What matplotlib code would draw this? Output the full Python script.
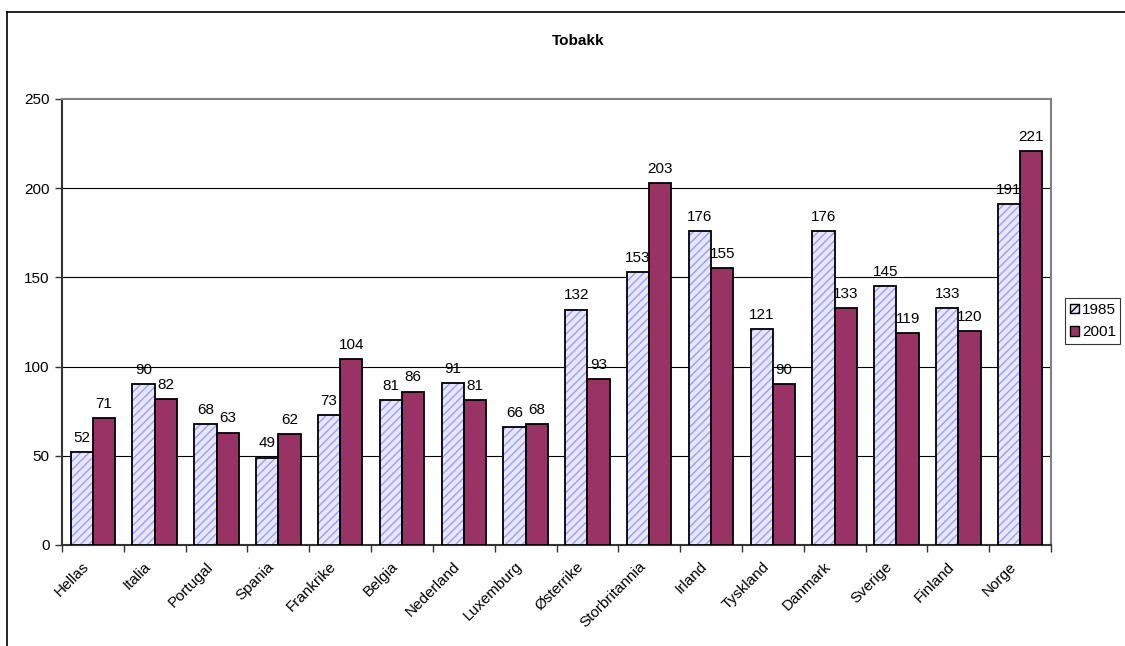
import matplotlib
matplotlib.use("Agg")
import matplotlib.pyplot as plt
from matplotlib.lines import Line2D
from matplotlib.patches import Patch
from matplotlib.transforms import ScaledTranslation
import numpy as np

plt.rcParams['font.family'] = ['Liberation Sans', 'DejaVu Sans']
plt.rcParams['hatch.linewidth'] = 1.0

countries = ["Hellas", "Italia", "Portugal", "Spania", "Frankrike", "Belgia",
             "Nederland", "Luxemburg", "Østerrike", "Storbritannia", "Irland",
             "Tyskland", "Danmark", "Sverige", "Finland", "Norge"]
values_1985 = [52, 90, 68, 49, 73, 81, 91, 66, 132, 153, 176, 121, 176, 145, 133, 191]
values_2001 = [71, 82, 63, 62, 104, 86, 81, 68, 93, 203, 155, 90, 133, 119, 120, 221]
series_labels = ["1985", "2001"]
y_ticks = [0, 50, 100, 150, 200, 250]

W, H = 1125, 646
FS = 11
fig = plt.figure(figsize=(W / 100, H / 100), dpi=100)
ax = fig.add_axes([62 / W, 1 - 545 / H, (1051 - 62) / W, (545 - 99) / H])

x = np.arange(len(countries))
bw = 0.36
col_a_face = "#e6e6ff"
col_a_hatch = "#9a9aff"
col_b = "#993366"

# 1985: hatched pale blue bars, black outline drawn on top
ax.bar(x - bw / 2, values_1985, bw, facecolor=col_a_face, edgecolor=col_a_hatch,
       hatch="////", linewidth=0, zorder=3)
ax.bar(x - bw / 2, values_1985, bw, facecolor="none", edgecolor="black",
       linewidth=1.3, zorder=4)
# 2001: solid plum bars
ax.bar(x + bw / 2, values_2001, bw, facecolor=col_b, edgecolor="black",
       linewidth=1.3, zorder=3)

for xi, v in zip(x, values_1985):
    ax.text(xi - bw / 2, v + 4, str(v), ha="center", va="bottom", fontsize=FS)
for xi, v in zip(x, values_2001):
    ax.text(xi + bw / 2, v + 4, str(v), ha="center", va="bottom", fontsize=FS)

ax.set_xlim(-0.5, len(countries) - 0.5)
ax.set_ylim(0, 250)
ax.set_yticks(y_ticks)
ax.set_yticklabels([str(t) for t in y_ticks], fontsize=FS)
for t in y_ticks[1:-1]:
    ax.axhline(t, color="black", linewidth=0.8, zorder=1)

ax.set_xticks(x)
ax.set_xticklabels(countries, rotation=45, ha="right", rotation_mode="anchor",
                   va="center", fontsize=FS)
ax.tick_params(axis="x", which="major", length=0, pad=14)
shift = ScaledTranslation(-6 / 100, 0, fig.dpi_scale_trans)
for lbl in ax.get_xticklabels():
    lbl.set_transform(lbl.get_transform() + shift)
ax.set_xticks(np.arange(len(countries) + 1) - 0.5, minor=True)
ax.tick_params(axis="x", which="minor", length=5, width=1, color="#333333")
ax.tick_params(axis="y", length=5, width=1, color="#333333", pad=4)

for side in ("top", "right"):
    ax.spines[side].set_color("#808080")
    ax.spines[side].set_linewidth(1.5)
for side in ("left", "bottom"):
    ax.spines[side].set_color("#333333")
    ax.spines[side].set_linewidth(1.5)

fig.text(578 / W, 1 - 41 / H, "Tobakk", ha="center", va="center",
         fontsize=FS, fontweight="bold")

handles = [Patch(facecolor=col_a_face, edgecolor="black", hatch="////", linewidth=1),
           Patch(facecolor=col_b, edgecolor="black", linewidth=1)]
leg = fig.legend(handles, series_labels, loc="center left",
                 bbox_to_anchor=(1065 / W, 1 - 321 / H), fontsize=FS,
                 handlelength=0.6, handleheight=0.6, handletextpad=0.2,
                 borderpad=0.3, labelspacing=0.55, fancybox=False,
                 frameon=True, borderaxespad=0)
leg.get_frame().set_edgecolor("black")
leg.get_frame().set_linewidth(0.8)

# outer chart frame (extends beyond the image on the right and bottom)
fig.add_artist(Line2D([7 / W, 7 / W], [1 - 12 / H, 0], transform=fig.transFigure,
                      color="black", linewidth=1.2))
fig.add_artist(Line2D([7 / W, 1], [1 - 12 / H, 1 - 12 / H], transform=fig.transFigure,
                      color="black", linewidth=1.2))

fig.savefig("out.png", dpi=100)
